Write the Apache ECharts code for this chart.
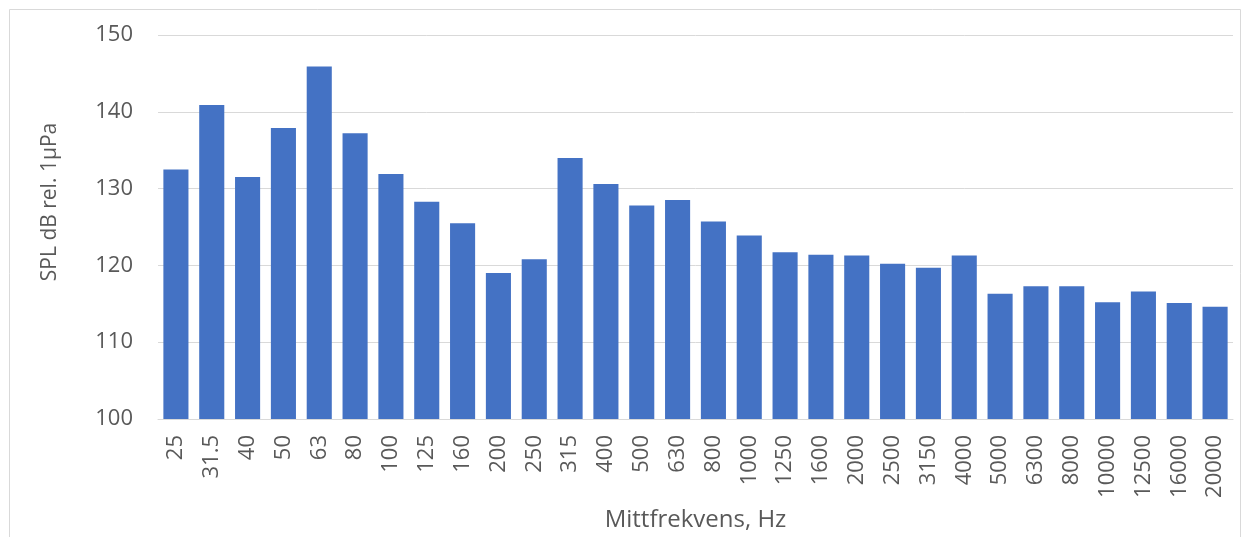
<!DOCTYPE html>
<html><head><meta charset="utf-8">
<script src="https://cdn.jsdelivr.net/npm/echarts@6/dist/echarts.min.js"></script>
<style>html,body{margin:0;padding:0;background:#fff}#c{width:1250px;height:537px}</style>
</head><body><div id="c"></div>
<script>
const categories = ['25','31.5','40','50','63','80','100','125','160','200','250','315','400','500','630','800','1000','1250','1600','2000','2500','3150','4000','5000','6300','8000','10000','12500','16000','20000'];
const values = [132.5,140.9,131.5,137.9,145.9,137.2,131.9,128.3,125.5,119.0,120.8,134.0,130.6,127.8,128.5,125.7,123.9,121.7,121.4,121.3,120.2,119.7,121.3,116.3,117.3,117.3,115.2,116.6,115.1,114.6];
const yTicks = {min:100, max:150, interval:10};
const yName = 'SPL dB rel. 1µPa';
const xName = 'Mittfrekvens, Hz';
const FONT = '"Open Sans", "Noto Sans", sans-serif';
const chart = echarts.init(document.getElementById('c'), null, {renderer:'canvas'});
chart.setOption({
  animation:false,
  backgroundColor:'#fff',
  textStyle:{fontFamily:FONT},
  graphic:[
    {type:'rect', shape:{x:9.5,y:9.5,width:1231,height:540}, style:{fill:'none', stroke:'#d9d9d9', lineWidth:1}, silent:true},
    {type:'text', x:50, y:202, rotation:Math.PI/2, silent:true,
     style:{text:yName, fontSize:21, fontFamily:FONT, fill:'#595959', align:'center', verticalAlign:'middle'}}
  ],
  grid:{left:158, right:17, top:35, bottom:117, containLabel:false},
  xAxis:{
    type:'category', data:categories,
    name:xName, nameLocation:'middle', nameGap:89,
    nameTextStyle:{fontSize:24, color:'#595959', fontFamily:FONT},
    axisLine:{lineStyle:{color:'#d9d9d9', width:1}},
    axisTick:{show:false},
    axisLabel:{rotate:90, fontSize:22, color:'#595959', margin:16, fontFamily:FONT, interval:0}
  },
  yAxis:{
    type:'value', min:yTicks.min, max:yTicks.max, interval:yTicks.interval,
    axisLine:{show:false}, axisTick:{show:false},
    axisLabel:{fontSize:22, color:'#595959', margin:25, fontFamily:FONT},
    splitLine:{lineStyle:{color:'#d9d9d9', width:1}}
  },
  series:[{type:'bar', data:values, barCategoryGap:'30%', itemStyle:{color:'#4472C4'}}]
});
</script></body></html>
